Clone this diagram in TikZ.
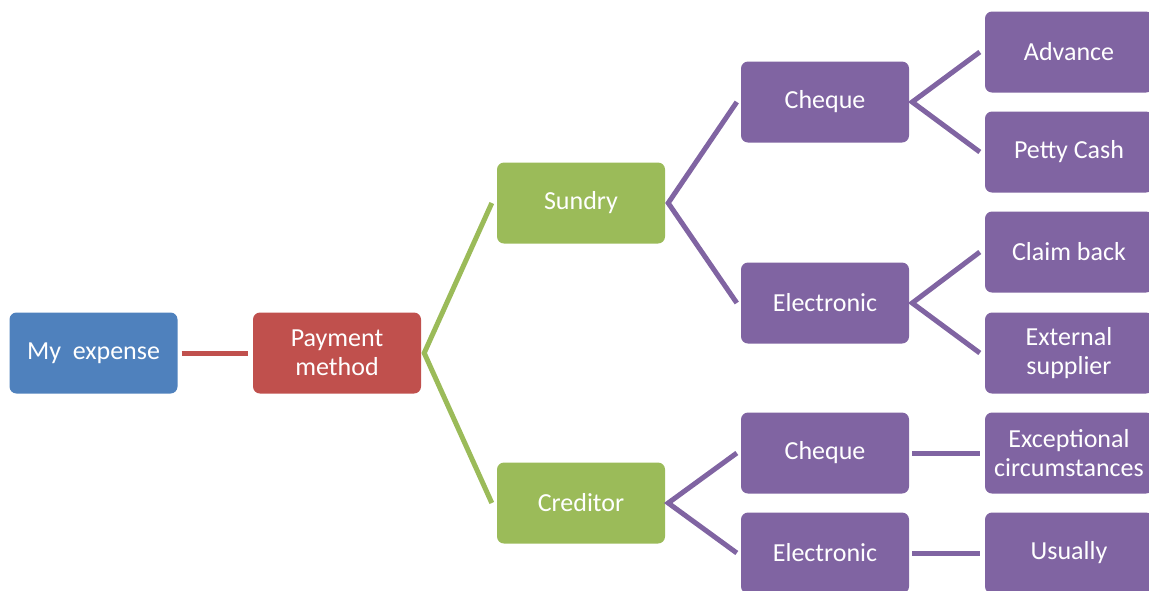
\documentclass[tikz,border=0pt]{standalone}
\usepackage{fontspec}
\setmainfont{Carlito}
\usetikzlibrary{positioning}
\definecolor{exblue}{HTML}{4F81BD}
\definecolor{exred}{HTML}{C0504D}
\definecolor{exgreen}{HTML}{9BBB59}
\definecolor{expurple}{HTML}{8064A2}

\begin{document}
\begin{tikzpicture}[x=1pt,y=-1pt,
  box/.style={rectangle,rounded corners=7pt,minimum width=168pt,
              minimum height=81pt,inner sep=0pt,text=white,align=center,
              font=\fontsize{26}{29}\selectfont},
  link/.style={line width=5pt,line join=miter}
]
  \clip (0,0) rectangle (1149,590);

  % ---- Root and payment method ---------------------------------
  \node[box,fill=exblue]  (me)  at (93.5,353) {My\ \ expense};
  \node[box,fill=exred]   (pay) at (337,353)  {Payment\\method};

  % ---- Second level --------------------------------------------
  \node[box,fill=exgreen] (sun)  at (581,203) {Sundry};
  \node[box,fill=exgreen] (cred) at (581,503) {Creditor};

  % ---- Third level ---------------------------------------------
  \node[box,fill=expurple] (schq) at (825,102) {Cheque};
  \node[box,fill=expurple] (sele) at (825,303) {Electronic};
  \node[box,fill=expurple] (cchq) at (825,453) {Cheque};
  \node[box,fill=expurple] (cele) at (825,553) {Electronic};

  % ---- Leaves (cut off on the right) ---------------------------
  \node[box,fill=expurple] (adv)   at (1069,52)  {Advance};
  \node[box,fill=expurple] (petty) at (1069,152) {Petty Cash};
  \node[box,fill=expurple] (claim) at (1069,252) {Claim back};
  \node[box,fill=expurple] (ext)   at (1069,353) {External\\supplier};
  \node[box,fill=expurple] (exc)   at (1069,453) {Exceptional\\circumstances};
  \node[box,fill=expurple] (usu)   at (1069,553) {Usually};

  % Connectors
  \draw[link,exred] ([xshift=4pt]me.east) -- ([xshift=-5pt]pay.west);
  \draw[link,exgreen] ([xshift=-5pt]sun.west) -- ([xshift=3pt]pay.east)
    -- ([xshift=-5pt]cred.west);
  \draw[link,expurple] ([xshift=-4pt]schq.west) -- ([xshift=3pt]sun.east)
    -- ([xshift=-4pt]sele.west);
  \draw[link,expurple] ([xshift=-4pt]cchq.west) -- ([xshift=3pt]cred.east)
    -- ([xshift=-4pt]cele.west);
  \draw[link,expurple] ([xshift=-5pt]adv.west) -- ([xshift=3pt]schq.east)
    -- ([xshift=-5pt]petty.west);
  \draw[link,expurple] ([xshift=-5pt]claim.west) -- ([xshift=3pt]sele.east)
    -- ([xshift=-5pt]ext.west);
  \draw[link,expurple] ([xshift=3pt]cchq.east) -- ([xshift=-5pt]exc.west);
  \draw[link,expurple] ([xshift=3pt]cele.east) -- ([xshift=-5pt]usu.west);

\end{tikzpicture}
\end{document}
